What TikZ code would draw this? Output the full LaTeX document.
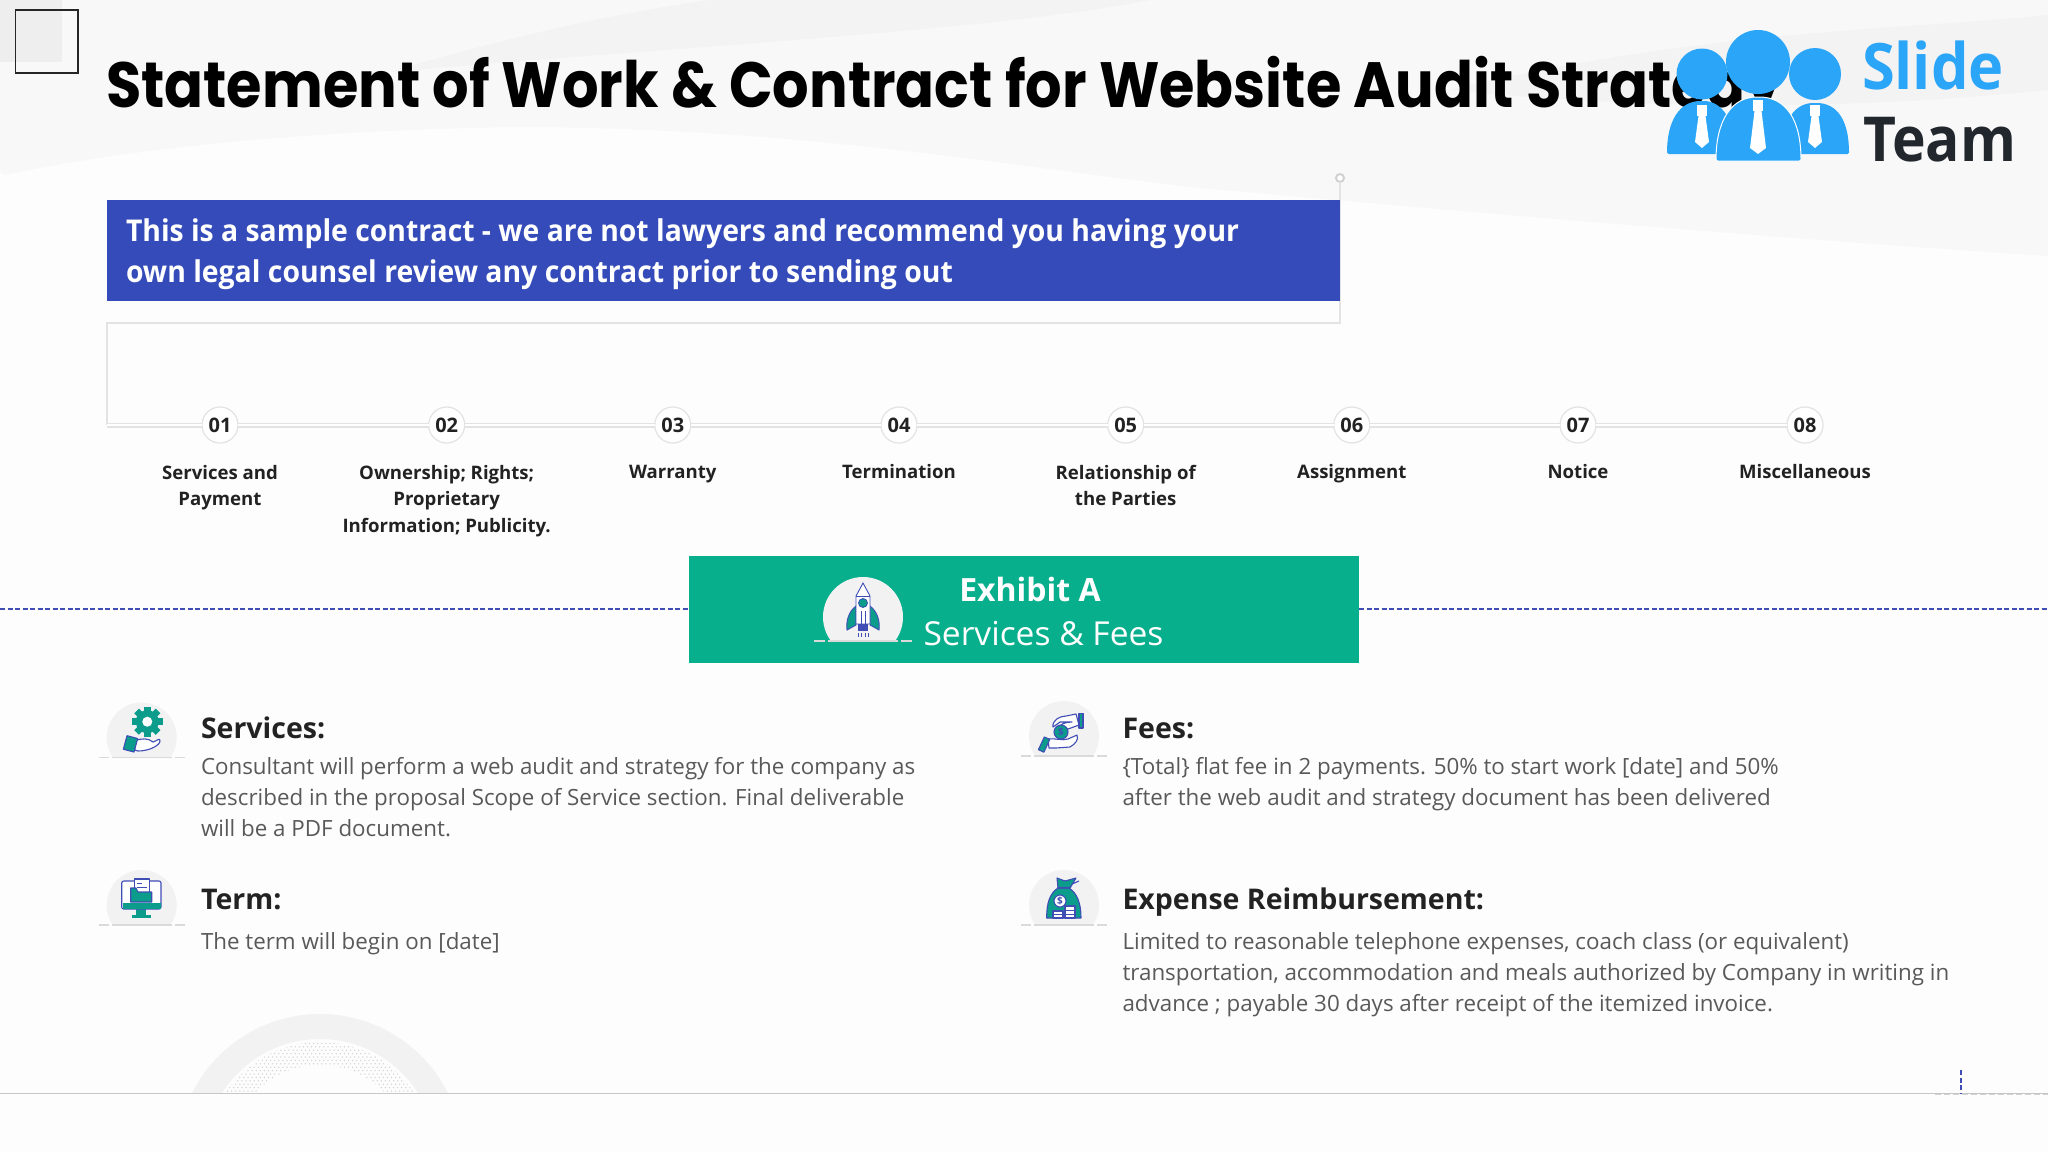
\documentclass[tikz,border=0pt]{standalone}
\usepackage{fontspec}
\setmainfont{Open Sans}
\newfontfamily\titlef{Poppins}
\newfontfamily\logof{Open Sans}
\definecolor{pagebg}{HTML}{FDFDFD}
\definecolor{bandA}{HTML}{F8F8F9}
\definecolor{bandB}{HTML}{F3F3F4}
\definecolor{bandC}{HTML}{EEEEEE}
\definecolor{ruleg}{HTML}{E3E3E6}
\definecolor{navy}{HTML}{344BB9}
\definecolor{dashb}{HTML}{3F4DB5}
\definecolor{jade}{HTML}{08AF8C}
\definecolor{teal}{HTML}{0C9C8C}
\definecolor{headc}{HTML}{222222}
\definecolor{bodyc}{HTML}{595959}
\definecolor{badgeg}{HTML}{F2F2F3}
\definecolor{badgel}{HTML}{DADADA}
\definecolor{logob}{HTML}{2AA5F8}
\definecolor{logod}{HTML}{22272E}
\tikzset{
  x=1pt,y=-1pt,
  every node/.style={inner sep=0pt,outer sep=0pt},
  numdot/.style={circle,draw=ruleg,line width=1.2pt,fill=white,minimum size=36pt,font=\bfseries\fontsize{20}{20}\selectfont,text=headc},
  steplabel/.style={anchor=north,align=center,font=\bfseries\fontsize{18.6}{26.7}\selectfont,text=headc,execute at begin node=\strut},
  headlabel/.style={anchor=base west,font=\bfseries\fontsize{28.5}{28.5}\selectfont,text=headc},
  bodytext/.style={anchor=north west,align=left,font=\fontsize{22.35}{31}\selectfont,text=bodyc},
  timeline/.style={draw=ruleg,line width=1.2pt,double=white,double distance=2.6pt},
  pale/.style={draw=ruleg,line width=1.4pt},
  blued/.style={draw=dashb,line width=1.6pt,dash pattern=on 5pt off 2.5pt},
  ico/.style={draw=dashb,line width=1.1pt,line join=round},
}
\newcommand{\badge}[3]{%
  \begin{scope}
    \clip (#1-50,#2-50) rectangle (#1+50,#2+19.5);
    \fill[badgeg] (#1,#2) circle (#3);
  \end{scope}
  \draw[badgel,line width=1.4pt] (#1-43,#2+20) -- (#1-33,#2+20) (#1-30,#2+20) -- (#1+30,#2+20) (#1+33,#2+20) -- (#1+43,#2+20);
}
\begin{document}
\begin{tikzpicture}
\useasboundingbox (0,0) rectangle (2048,1152);
% page and soft background
\fill[pagebg] (0,0) rectangle (2048,1152);
\fill[bandA] (0,0) -- (2048,0) -- (2048,256) .. controls (1800,240) and (1500,215) .. (1200,188) .. controls (1000,165) and (800,128) .. (520,127) .. controls (300,130) and (120,150) .. (5,175) -- (0,172) -- cycle;
\fill[bandB] (390,72) .. controls (480,45) and (600,15) .. (710,0) -- (1150,0) .. controls (1000,30) and (700,45) .. (390,72) -- cycle;
\fill[bandB] (1450,90) .. controls (1700,30) and (1900,30) .. (2048,15) -- (2048,90) .. controls (1900,105) and (1700,115) .. (1450,90) -- cycle;
\fill[bandC] (0,0) rectangle (62,62);
% bottom arcs
\begin{scope}
  \clip (150,1000) rectangle (500,1093);
  \fill[badgeg,even odd rule] (320,1157) circle (143) (320,1155) circle (116);
  \begin{scope}[even odd rule]
  \clip (320,1155) circle (113) (320,1155) circle (90);
  \foreach \i in {0,...,58}{\foreach \j in {0,...,17}{
    \fill[black!18] ({205+\i*4.1+mod(\j,2)*2},{1040+\j*3.4}) circle (0.75);
  }}
  \end{scope}
\end{scope}
\draw[draw=black!22,line width=1.1pt] (0,1093.5) -- (2048,1093.5);
\draw[draw=black!18,line width=1.1pt,dash pattern=on 6pt off 3pt] (1935,1094.5) -- (2048,1094.5);
\coordinate (tickT) at (1960.7,1070);
\coordinate (tickB) at (1960.7,1093);
\draw[blued] (tickT) -- (tickB);
% outline frame
\coordinate (frameBL) at (107,425);
\coordinate (frameTL) at (107,323);
\coordinate (frameTR) at (1340,323);
\node[circle,draw=black!18,line width=2pt,fill=white,minimum size=8pt] (handle) at (1340,178) {};
\draw[pale] (frameBL) -- (frameTL) -- (frameTR) -- (handle);
% title
\node[anchor=base west,text=black] (title) at (106,107) {\resizebox{1676pt}{\height}{\titlef\bfseries\fontsize{64}{64}\selectfont Statement of Work \& Contract for Website Audit Strategy}};
% note box
\node[fill=navy,anchor=north west,minimum width=1233pt,minimum height=101pt] (banner) at (107,200) {};
\node[anchor=base west,text=white] (note1) at (126,241) {\resizebox{1113pt}{\height}{\bfseries\fontsize{30}{30}\selectfont This is a sample contract - we are not lawyers and recommend you having your}};
\node[anchor=base west,text=white] (note2) at (126,282) {\resizebox{827pt}{\height}{\bfseries\fontsize{30}{30}\selectfont own legal counsel review any contract prior to sending out}};
% timeline
\foreach \n/\x/\t in {1/220/01,2/446.7/02,3/672.8/03,4/899/04,5/1125.7/05,6/1351.8/06,7/1578/07,8/1805/08}{
  \node[numdot] (num\n) at (\x,425) {\t};
}
\draw[timeline] (frameBL) -- (num1);
\foreach \a/\b in {1/2,2/3,3/4,4/5,5/6,6/7,7/8}{ \draw[timeline] (num\a) -- (num\b); }
\node[steplabel] (lab1) at (220,465) {Services and\\Payment};
\node[steplabel] (lab2) at (446.7,465) {Ownership; Rights;\\Proprietary\\Information; Publicity.};
\node[steplabel] (lab3) at (672.8,459.5) {Warranty};
\node[steplabel] (lab4) at (899,459.5) {Termination};
\node[steplabel] (lab5) at (1125.7,465) {Relationship of\\the Parties};
\node[steplabel] (lab6) at (1351.8,459.5) {Assignment};
\node[steplabel] (lab7) at (1578,459.5) {Notice};
\node[steplabel] (lab8) at (1805,459.5) {Miscellaneous};
% exhibit banner
\node[fill=jade,anchor=north west,minimum width=670.5pt,minimum height=106.5pt] (exhibit) at (688.5,556) {};
\coordinate (dashL) at (0,609);
\coordinate (dashR) at (2048,609);
\draw[blued] (dashL) -- (exhibit.west |- dashL);
\draw[blued] (exhibit.east |- dashR) -- (dashR);
\begin{scope}
  \clip (800,570) rectangle (930,640);
  \fill[badgeg] (863,617) circle (40);
\end{scope}
\draw[badgel,line width=1.5pt] (814,641) -- (825,641) (828,641) -- (898,641) (901,641) -- (912,641);
\filldraw[fill=teal,draw=dashb,line width=.9pt] (856,606) .. controls (848,612) and (846,622) .. (847,630) -- (856,625) -- cycle;
\filldraw[fill=teal,draw=dashb,line width=.9pt] (870,606) .. controls (878,612) and (880,622) .. (879,630) -- (870,625) -- cycle;
\filldraw[fill=white,draw=dashb,line width=.9pt] (856,624) -- (856,596) -- (863,583) -- (870,596) -- (870,624) -- cycle;
\filldraw[fill=teal,draw=dashb,line width=.8pt] (863,603) circle (4.5);
\draw[dashb,line width=.8pt] (856,596) -- (870,596) (861,611) -- (861,624) (865,611) -- (865,624);
\fill[dashb] (858,624) rectangle (868,631);
\draw[dashb,line width=.7pt] (858,633) -- (858,637) (861.5,633) -- (861.5,637) (865,633) -- (865,637) (868,633) -- (868,637);
\node[text=white] (exA) at (1030,589) {\bfseries\fontsize{32}{32}\selectfont Exhibit A};
\node[text=white] (exB) at (1043.5,634) {\resizebox{240pt}{\height}{\fontsize{33}{33}\selectfont Services \& Fees}};
% service items
\badge{141.7}{737.5}{35}
\badge{141.7}{905}{35}
\badge{1064}{736}{35}
\badge{1064}{905}{35}
\node[headlabel] (h1) at (201,738) {Services:};
\node[bodytext] (b1) at (201,757.5) {Consultant will perform a web audit and strategy for the company as\\described in the proposal Scope of Service section. Final deliverable\\will be a PDF document.};
\node[headlabel] (h2) at (201,909.5) {Term:};
\node[bodytext] (b2) at (201,932.5) {The term will begin on [date]};
\node[headlabel] (h3) at (1122.5,738) {Fees:};
\node[bodytext] (b3) at (1122.5,757.5) {\{Total\} flat fee in 2 payments. 50\% to start work [date] and 50\%\\after the web audit and strategy document has been delivered};
\node[headlabel] (h4) at (1122.5,909.5) {Expense Reimbursement:};
\node[bodytext] (b4) at (1122.5,932.5) {Limited to reasonable telephone expenses, coach class (or equivalent)\\transportation, accommodation and meals authorized by Company in writing in\\advance ; payable 30 days after receipt of the itemized invoice.};
% gear and hand
\foreach \a in {0,45,...,315}{ \fill[teal,rotate around={\a:(147.3,721.7)}] (144,706.5) rectangle (150.6,714); }
\fill[teal] (147.3,721.7) circle (11.5);
\fill[white] (147.3,721.7) circle (5);
\filldraw[ico,fill=white] (134,741) .. controls (142,738) and (148,738) .. (153,742) .. controls (157,741) and (160,737) .. (160,741) .. controls (160,745) and (150,751) .. (138,751) -- (135,750) -- cycle;
\filldraw[ico,fill=teal,rotate around={-15:(131,744)}] (125,737) rectangle (136,751);
% monitor
\fill[teal] (136,908) rectangle (146,915);
\fill[teal] (132,915) rectangle (151,918);
\filldraw[ico,fill=white,rounded corners=2pt] (121.7,881) rectangle (161,909);
\fill[teal] (122.5,903) rectangle (160.5,908.5);
\filldraw[ico,fill=white] (134.5,879) rectangle (149.5,894);
\draw[dashb,line width=.9pt] (137,883) -- (142,883) (137,887) -- (147,887);
\filldraw[ico,fill=teal] (130.7,888) -- (136,888) -- (138,892) -- (151.7,892) -- (151.7,902) -- (130.7,902) -- cycle;
% hands and coin
\filldraw[ico,fill=white] (1053,727) .. controls (1052,720) and (1060,716) .. (1066,716) -- (1076,714) -- (1079,725) -- (1068,729) -- (1058,729) .. controls (1060,724) and (1065,722) .. (1072,722) -- (1060,722) -- cycle;
\filldraw[ico,fill=teal] (1079,713.5) rectangle (1083,728);
\filldraw[ico,fill=white] (1048,739) .. controls (1056,738) and (1062,741) .. (1068,739) -- (1077,735) .. controls (1079,740) and (1075,744) .. (1070,747) -- (1056,748) -- (1049,748) -- cycle;
\filldraw[ico,fill=teal,rotate around={-25:(1045,745)}] (1041,738) rectangle (1047,752);
\filldraw[ico,fill=teal] (1061,732) circle (7);
\node[text=dashb] (feeCoin) at (1061,732) {\bfseries\fontsize{10}{10}\selectfont\$};
% money bag
\filldraw[ico,fill=teal] (1058,888) .. controls (1050,893) and (1046.5,903) .. (1046.7,918) -- (1081,918) .. controls (1081,903) and (1077,893) .. (1069,888) -- cycle;
\filldraw[ico,fill=teal] (1057,878) -- (1065,881) -- (1076,878) -- (1070,888) -- (1058,888) -- cycle;
\draw[ico] (1057,887.5) -- (1071,887.5) (1072,884) -- (1079,881);
\filldraw[ico,fill=white] (1060,901) circle (6);
\node[text=dashb] (bagCoin) at (1060,901) {\bfseries\fontsize{10}{10}\selectfont\$};
\filldraw[ico,fill=white] (1053,911) rectangle (1063,918);
\filldraw[ico,fill=white] (1065,906) rectangle (1075,918);
\draw[dashb,line width=.8pt] (1053,914.5) -- (1063,914.5) (1065,910) -- (1075,910) (1065,914) -- (1075,914);
% logo
\fill[logob] (1702,74) circle (25.5);
\fill[logob] (1815,74) circle (26);
\fill[logob] (1758,62) circle (32);
\fill[logob,rounded corners=1.5pt] (1667,154) .. controls (1667,120) and (1680,101) .. (1702,101) .. controls (1722,101) and (1735,120) .. (1735,154) -- cycle;
\fill[logob,rounded corners=1.5pt] (1782,154) .. controls (1782,120) and (1795,103) .. (1815,103) .. controls (1837,103) and (1849,120) .. (1849,154) -- cycle;
\filldraw[draw=white,line width=1pt,fill=logob,rounded corners=1.5pt] (1716,161) .. controls (1716,120) and (1732,97) .. (1758,97) .. controls (1786,97) and (1801,120) .. (1801,161) -- cycle;
\foreach \cx/\ty/\hw/\ybot in {1702/105/6/148,1815/105/6/148,1758/100/7/154}{
  \fill[white] (\cx-5,\ty) rectangle (\cx+5,\ty+11);
  \fill[white] (\cx-3.5,\ty+11) -- (\cx+3.5,\ty+11) -- (\cx+\hw+1,\ybot-6) -- (\cx,\ybot) -- (\cx-\hw-1,\ybot-6) -- cycle;
}
\node[anchor=base west,text=logob] (logoA) at (1862,89) {\resizebox{142pt}{\height}{\logof\bfseries\fontsize{64}{64}\selectfont Slide}};
\node[anchor=base west,text=logod] (logoB) at (1863,161) {\resizebox{153pt}{\height}{\logof\bfseries\fontsize{62}{62}\selectfont Team}};
% empty marker box
\draw[draw=black!85,line width=1.4pt] (15.6,10) rectangle (78,73);
\end{tikzpicture}
\end{document}
